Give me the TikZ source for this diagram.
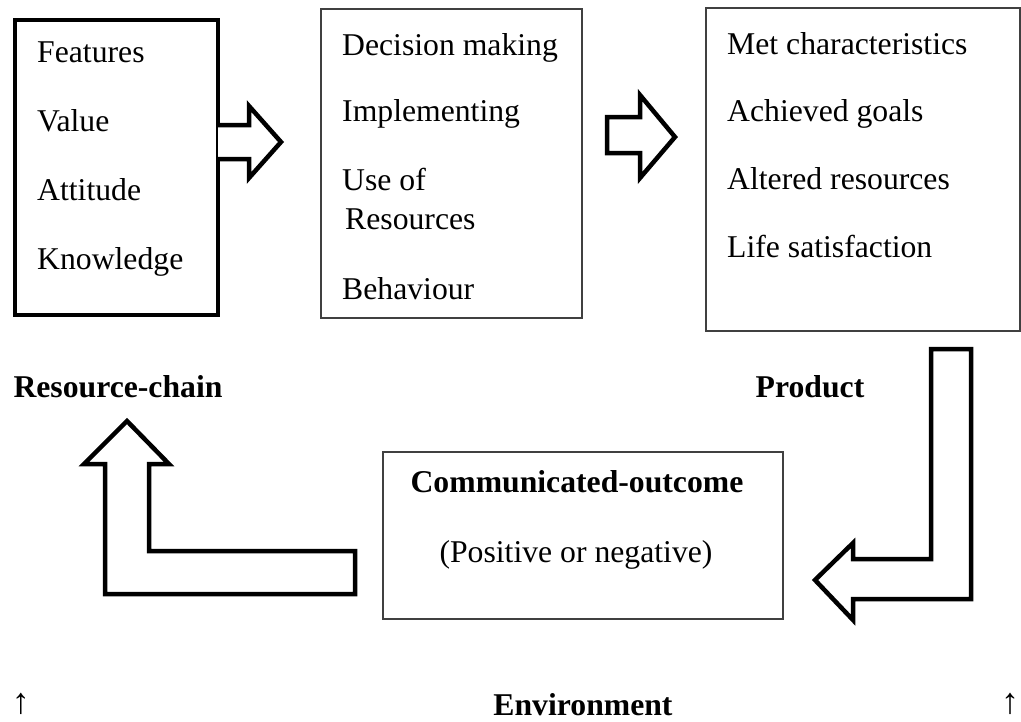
\documentclass[tikz,border=0pt]{standalone}
\usepackage{fontspec}
\setmainfont{Liberation Serif}
\begin{document}
\begin{tikzpicture}[x=1pt,y=-1pt,
  txt/.style={anchor=base west,inner sep=0pt,font=\fontsize{31.7}{38}\selectfont},
  btxt/.style={anchor=base,inner sep=0pt,font=\fontsize{31.7}{38}\selectfont\bfseries},
  arr/.style={anchor=base,inner sep=0pt,font=\fontsize{36}{40}\selectfont},
  thinbox/.style={draw=black!75,line width=1.4pt},
  thickbox/.style={draw=black,line width=4.5pt},
  blockarrow/.style={draw=black,line width=4.5pt,fill=white,line join=miter}]
\useasboundingbox (0,0) rectangle (1021,721);
% boxes
\draw[thickbox] (15,20) rectangle (218,315);
\draw[thinbox] (321,9) rectangle (582,318);
\draw[thinbox] (706,8) rectangle (1020,331);
\draw[thinbox] (383,452) rectangle (783,619);
% box 1 texts
\node[txt] (f1) at (37,62) {Features};
\node[txt] (f2) at (37,131) {Value};
\node[txt] (f3) at (37,200) {Attitude};
\node[txt] (f4) at (37,269) {Knowledge};
% box 2 texts
\node[txt] (d1) at (342,55) {Decision making};
\node[txt] (d2) at (342,121) {Implementing};
\node[txt] (d3) at (342,190) {Use of};
\node[txt] (d4) at (345,229) {Resources};
\node[txt] (d5) at (342,299) {Behaviour};
% box 3 texts
\node[txt] (m1) at (727,54) {Met characteristics};
\node[txt] (m2) at (727,121) {Achieved goals};
\node[txt] (m3) at (727,189) {Altered resources};
\node[txt] (m4) at (727,257) {Life satisfaction};
% box 4 texts
\node[btxt] (c1) at (577,492) {Communicated-outcome};
\node[btxt,font=\fontsize{31.7}{38}\selectfont] (c2) at (576,562) {(Positive or negative)};
% labels
\node[btxt] (rc) at (118,397) {Resource-chain};
\node[btxt] (pr) at (810,397) {Product};
\node[btxt] (env) at (583,715) {Environment};
\node[arr] (u1) at (21,713) {↑};
\node[arr] (u2) at (1010,713) {↑};
% block arrows
\draw[blockarrow] (218,125) -- (249,125) -- (249,106) -- (281,142) -- (249,178) -- (249,159) -- (218,159);
\draw[blockarrow] (607,117) -- (640,117) -- (640,95) -- (675,137) -- (640,178) -- (640,153) -- (607,153) -- cycle;
\draw[blockarrow] (127,421) -- (169,464) -- (149,464) -- (149,551) -- (355,551) -- (355,594) -- (105,594) -- (105,464) -- (84,464) -- cycle;
\draw[blockarrow] (931,349) -- (971,349) -- (971,599) -- (853,599) -- (853,620) -- (815,580) -- (853,543) -- (853,559) -- (931,559) -- cycle;
\end{tikzpicture}
\end{document}
